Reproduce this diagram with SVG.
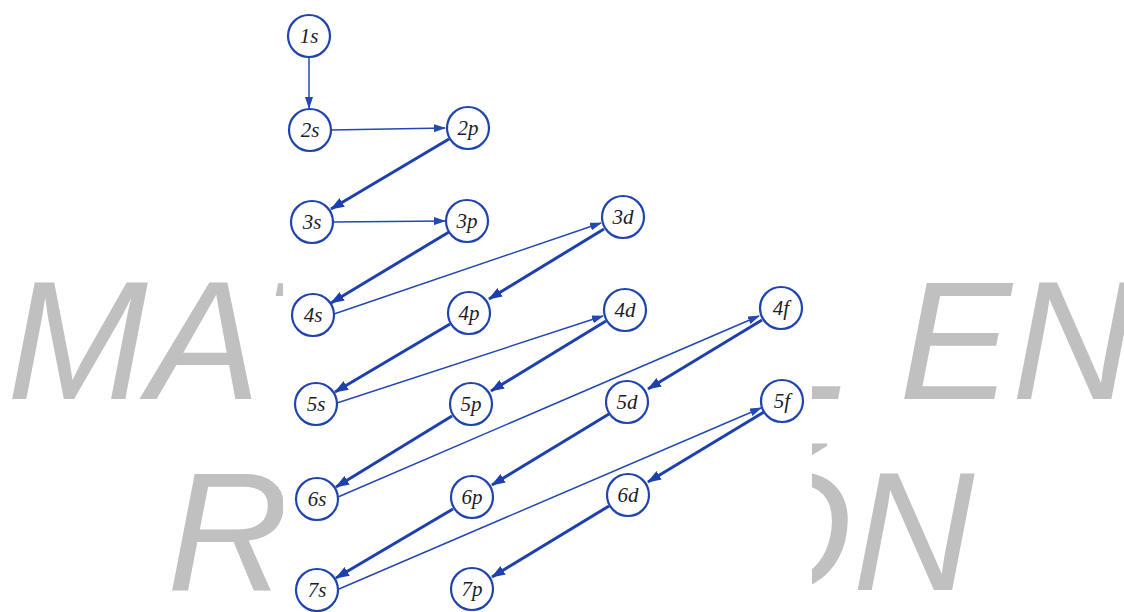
<svg xmlns="http://www.w3.org/2000/svg" width="1124" height="612" viewBox="0 0 1124 612">
<style>
.wm{font-family:"Liberation Sans",Arial,sans-serif;font-style:italic;font-size:169px;fill:#c0c0c0;font-kerning:none}
.node circle{fill:#fff;stroke:#1f44b0;stroke-width:2.2}
.node text{font-family:"Liberation Serif","Times New Roman",serif;font-style:italic;font-size:21px;fill:#1c1c2a;text-anchor:middle;dominant-baseline:central}
.thin{stroke:#2248b4;stroke-width:1.5;fill:none;marker-end:url(#ah)}
.thick{stroke:#1d40ae;stroke-width:3;fill:none;marker-end:url(#ah2)}
</style>
<defs>
<marker id="ah" markerUnits="userSpaceOnUse" markerWidth="12" markerHeight="8" refX="11" refY="4" orient="auto"><path d="M0,0 L12,4 L0,8 z" fill="#2248b4"/></marker>
<marker id="ah2" markerUnits="userSpaceOnUse" markerWidth="14" markerHeight="10" refX="13" refY="5" orient="auto"><path d="M0,0 L14,5 L0,10 z" fill="#1d40ae"/></marker>
</defs>
<rect width="1124" height="612" fill="#fff"/>
<g id="watermark">
<text class="wm" x="7" y="399">MATERIAL EN</text>
<text class="wm" x="167" y="590">REVISIÓN</text>
</g>
<rect x="283" y="0" width="529" height="612" fill="#fff"/>
<g id="connectors">
<line class="thin" x1="309" y1="57" x2="309" y2="108"/>
<line class="thin" x1="331" y1="130" x2="445" y2="128"/>
<line class="thin" x1="333" y1="222" x2="445" y2="221"/>
<line class="thin" x1="334" y1="314" x2="601" y2="223"/>
<line class="thin" x1="337" y1="403" x2="603" y2="316"/>
<line class="thin" x1="338" y1="497" x2="759" y2="316"/>
<line class="thin" x1="339" y1="589" x2="761" y2="408"/>
<line class="thick" x1="449" y1="139" x2="331" y2="209"/>
<line class="thick" x1="449" y1="232" x2="331" y2="303"/>
<line class="thick" x1="604" y1="229" x2="489" y2="299"/>
<line class="thick" x1="450" y1="324" x2="335" y2="392"/>
<line class="thick" x1="606" y1="321" x2="491" y2="391"/>
<line class="thick" x1="452" y1="416" x2="336" y2="487"/>
<line class="thick" x1="762" y1="320" x2="648" y2="389"/>
<line class="thick" x1="609" y1="414" x2="492" y2="485"/>
<line class="thick" x1="453" y1="509" x2="336" y2="578"/>
<line class="thick" x1="764" y1="412" x2="648" y2="482"/>
<line class="thick" x1="609" y1="506" x2="492" y2="577"/>
</g>
<g id="n1s" class="node"><circle cx="309" cy="36" r="21"/><text x="309" y="36">1s</text></g>
<g id="n2s" class="node"><circle cx="310" cy="130" r="21"/><text x="310" y="130">2s</text></g>
<g id="n2p" class="node"><circle cx="468" cy="128" r="21"/><text x="468" y="128">2p</text></g>
<g id="n3s" class="node"><circle cx="312" cy="222" r="21"/><text x="312" y="222">3s</text></g>
<g id="n3p" class="node"><circle cx="467" cy="221" r="21"/><text x="467" y="221">3p</text></g>
<g id="n3d" class="node"><circle cx="623" cy="217" r="21"/><text x="623" y="217">3d</text></g>
<g id="n4s" class="node"><circle cx="313" cy="315" r="21"/><text x="313" y="315">4s</text></g>
<g id="n4p" class="node"><circle cx="469" cy="313" r="21"/><text x="469" y="313">4p</text></g>
<g id="n4d" class="node"><circle cx="625" cy="310" r="21"/><text x="625" y="310">4d</text></g>
<g id="n4f" class="node"><circle cx="781" cy="308" r="21"/><text x="781" y="308">4f</text></g>
<g id="n5s" class="node"><circle cx="316" cy="404" r="21"/><text x="316" y="404">5s</text></g>
<g id="n5p" class="node"><circle cx="471" cy="404" r="21"/><text x="471" y="404">5p</text></g>
<g id="n5d" class="node"><circle cx="627" cy="402" r="21"/><text x="627" y="402">5d</text></g>
<g id="n5f" class="node"><circle cx="782" cy="401" r="21"/><text x="782" y="401">5f</text></g>
<g id="n6s" class="node"><circle cx="317" cy="499" r="21"/><text x="317" y="499">6s</text></g>
<g id="n6p" class="node"><circle cx="472" cy="497" r="21"/><text x="472" y="497">6p</text></g>
<g id="n6d" class="node"><circle cx="628" cy="495" r="21"/><text x="628" y="495">6d</text></g>
<g id="n7s" class="node"><circle cx="317" cy="590" r="21"/><text x="317" y="590">7s</text></g>
<g id="n7p" class="node"><circle cx="472" cy="589" r="21"/><text x="472" y="589">7p</text></g>
</svg>
